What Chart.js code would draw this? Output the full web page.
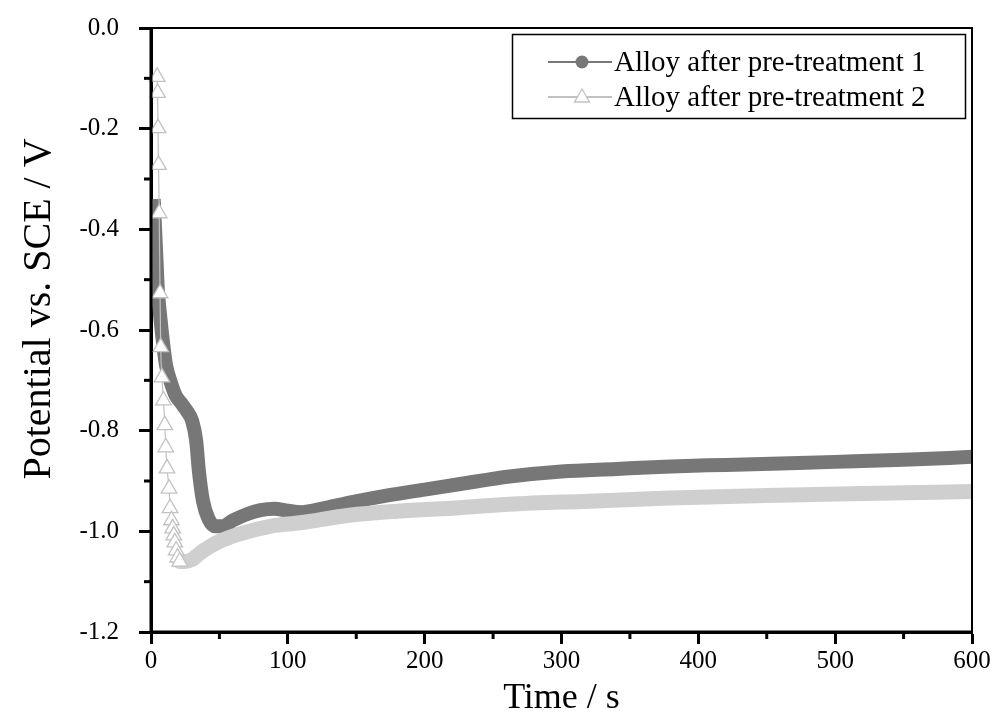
<!DOCTYPE html>
<html>
<head>
<meta charset="utf-8">
<script src="https://cdn.jsdelivr.net/npm/chart.js@4"></script>
<style>
  html, body { margin: 0; padding: 0; background: #fff; }
  #wrap { width: 1000px; height: 727px; }
</style>
</head>
<body>
<div id="wrap"><canvas id="chart" width="1000" height="727"></canvas></div>
<script>
// data
const seriesNames = ["Alloy after pre-treatment 1", "Alloy after pre-treatment 2"];
const xTitle = "Time / s";
const yTitle = "Potential vs. SCE / V";

const timeDark = [2, 3, 4, 5, 7, 9, 11, 14, 18, 22, 26, 30, 33, 35, 38, 42, 47, 52, 60, 70,
  80, 90, 100, 110, 125, 145, 170, 200, 226, 262, 300, 340, 380, 420, 460, 500, 550, 600];
const potDark = [-0.34, -0.40, -0.46, -0.52, -0.58, -0.63, -0.67, -0.70, -0.73, -0.745, -0.76, -0.78, -0.82, -0.88, -0.94, -0.975, -0.99, -0.99, -0.978, -0.966,
  -0.958, -0.955, -0.959, -0.962, -0.955, -0.943, -0.93, -0.917, -0.906, -0.891, -0.881, -0.876, -0.871, -0.868, -0.865, -0.862, -0.858, -0.852];

const timeLight = [4.5, 4.8, 5.1, 5.5, 6, 6.6, 7.1, 8.0, 9.1, 10.1, 10.8, 11.7, 13.2, 13.9, 15.0, 15.8, 16.6, 17.4, 18.4, 19.4,
  21, 25, 30, 35, 42, 50, 65, 87, 109, 145, 180, 226, 262, 320, 379, 450, 520, 600];
const potLight = [-0.097, -0.129, -0.199, -0.272, -0.368, -0.527, -0.634, -0.694, -0.740, -0.789, -0.833, -0.875, -0.915, -0.954, -0.978, -0.994, -1.008, -1.022, -1.038, -1.052,
  -1.06, -1.06, -1.056, -1.045, -1.032, -1.02, -1.005, -0.99, -0.983, -0.968, -0.96, -0.953, -0.946, -0.94, -0.934, -0.929, -0.925, -0.921];

const xTicks = [0, 100, 200, 300, 400, 500, 600];
const xMinor = [50, 150, 250, 350, 450, 550];
const yTicks = [0.0, -0.2, -0.4, -0.6, -0.8, -1.0, -1.2];
const yMinor = [-0.1, -0.3, -0.5, -0.7, -0.9, -1.1];

const darkGrey = "#777777";
const lightGrey = "#cfcfcf";
const triEdge = "#c2c2c2";
const serif = "'Liberation Serif', 'Times New Roman', serif";
const bandStart = 21; // light series turns into a dense band from here

function toPoints(xs, ys) {
  return xs.map((x, i) => ({ x: x, y: ys[i] }));
}

// frame, minor ticks, y title and legend box
const framePlugin = {
  id: "framePlugin",
  afterDatasetsDraw(chart) {
    const ctx = chart.ctx;
    const a = chart.chartArea;
    const xs = chart.scales.x, ys = chart.scales.y;
    ctx.save();
    ctx.strokeStyle = "#000";
    // top and right
    ctx.lineWidth = 2;
    ctx.beginPath();
    ctx.moveTo(a.left, a.top); ctx.lineTo(a.right, a.top); ctx.lineTo(a.right, a.bottom);
    ctx.stroke();
    // left and bottom on top of the marks
    ctx.lineWidth = 3;
    ctx.beginPath();
    ctx.moveTo(a.left, a.top - 1); ctx.lineTo(a.left, a.bottom); ctx.lineTo(a.right, a.bottom);
    ctx.stroke();
    // minor ticks
    xMinor.forEach(v => {
      const px = xs.getPixelForValue(v);
      ctx.beginPath(); ctx.moveTo(px, a.bottom); ctx.lineTo(px, a.bottom + 7); ctx.stroke();
    });
    yMinor.forEach(v => {
      const py = ys.getPixelForValue(v);
      ctx.beginPath(); ctx.moveTo(a.left, py); ctx.lineTo(a.left - 7, py); ctx.stroke();
    });

    // y title, sits a bit above the middle in the original
    ctx.save();
    ctx.translate(50, 309);
    ctx.rotate(-Math.PI / 2);
    ctx.font = "40px " + serif;
    ctx.fillStyle = "#000";
    ctx.textAlign = "center";
    ctx.textBaseline = "alphabetic";
    ctx.fillText(yTitle, 0, 0);
    ctx.restore();

    // legend
    const bw = 453, bh = 84;
    const bx = a.right - 7 - bw, by = a.top + 6;
    ctx.lineWidth = 1.5;
    ctx.strokeRect(bx + 0.5, by + 0.5, bw, bh);
    const rows = [by + 28, by + 63];
    const lx0 = bx + 36, lx1 = bx + 100, mx = bx + 70;
    ctx.font = "29px " + serif;
    ctx.textBaseline = "middle";
    ctx.textAlign = "left";
    // row 1
    ctx.strokeStyle = darkGrey; ctx.lineWidth = 2;
    ctx.beginPath(); ctx.moveTo(lx0, rows[0]); ctx.lineTo(lx1, rows[0]); ctx.stroke();
    ctx.fillStyle = darkGrey;
    ctx.beginPath(); ctx.arc(mx, rows[0], 6.5, 0, Math.PI * 2); ctx.fill();
    // row 2
    ctx.strokeStyle = triEdge; ctx.lineWidth = 2;
    ctx.beginPath(); ctx.moveTo(lx0, rows[1]); ctx.lineTo(lx1, rows[1]); ctx.stroke();
    ctx.fillStyle = "#fff"; ctx.lineWidth = 1.3;
    ctx.beginPath();
    ctx.moveTo(mx, rows[1] - 8); ctx.lineTo(mx + 7.5, rows[1] + 5); ctx.lineTo(mx - 7.5, rows[1] + 5);
    ctx.closePath(); ctx.fill(); ctx.stroke();
    ctx.fillStyle = "#000";
    ctx.fillText(seriesNames[0], lx1 + 2, rows[0] + 1);
    ctx.fillText(seriesNames[1], lx1 + 2, rows[1] + 1);
    ctx.restore();
  }
};

new Chart(document.getElementById("chart"), {
  type: "line",
  data: {
    datasets: [
      {
        label: seriesNames[0],
        data: toPoints(timeDark, potDark),
        borderColor: darkGrey,
        borderWidth: 14,
        borderJoinStyle: "round",
        cubicInterpolationMode: "monotone",
        pointRadius: 0,
        clip: { left: 0, top: 10, right: 0, bottom: 0 },
        order: 1
      },
      {
        label: seriesNames[1],
        data: toPoints(timeLight, potLight),
        borderColor: lightGrey,
        borderWidth: 1.2,
        borderJoinStyle: "round",
        borderCapStyle: "round",
        cubicInterpolationMode: "monotone",
        segment: {
          borderWidth: c => (c.p0.parsed.x >= bandStart ? 15 : 1.2),
          borderColor: c => (c.p0.parsed.x >= bandStart ? lightGrey : triEdge)
        },
        pointStyle: "triangle",
        pointRadius: c => (c.raw && c.raw.x <= bandStart ? 9 : 0),
        pointBackgroundColor: "#fff",
        pointBorderColor: triEdge,
        pointBorderWidth: 1.3,
        clip: { left: 10, top: 10, right: 0, bottom: 10 },
        order: 0
      }
    ]
  },
  options: {
    responsive: false,
    animation: false,
    events: [],
    layout: { padding: { top: 28, right: 28, left: 0, bottom: 0 } },
    plugins: { legend: { display: false }, tooltip: { enabled: false } },
    scales: {
      x: {
        type: "linear",
        min: 0, max: 600,
        afterFit: s => { s.height = 95; },
        afterBuildTicks: s => { s.ticks = xTicks.map(v => ({ value: v })); },
        grid: { drawOnChartArea: false, drawTicks: true, tickLength: 12, tickWidth: 3, tickColor: "#000" },
        border: { display: true, color: "#000", width: 3 },
        ticks: { color: "#000", font: { family: serif, size: 25 }, padding: 2, maxRotation: 0 },
        title: { display: true, text: xTitle, color: "#000", font: { family: serif, size: 36 }, padding: { top: 0, bottom: 7 } }
      },
      y: {
        type: "linear",
        min: -1.2, max: 0,
        afterFit: s => { s.width = 151; s.paddingTop = 0; s.paddingBottom = 0; },
        afterBuildTicks: s => { s.ticks = yTicks.map(v => ({ value: v })); },
        grid: { drawOnChartArea: false, drawTicks: true, tickLength: 12, tickWidth: 3, tickColor: "#000" },
        border: { display: true, color: "#000", width: 3 },
        ticks: { color: "#000", font: { family: serif, size: 25 }, padding: 20, callback: v => Number(v).toFixed(1) },
        title: { display: false }
      }
    }
  },
  plugins: [framePlugin]
});
</script>
</body>
</html>
